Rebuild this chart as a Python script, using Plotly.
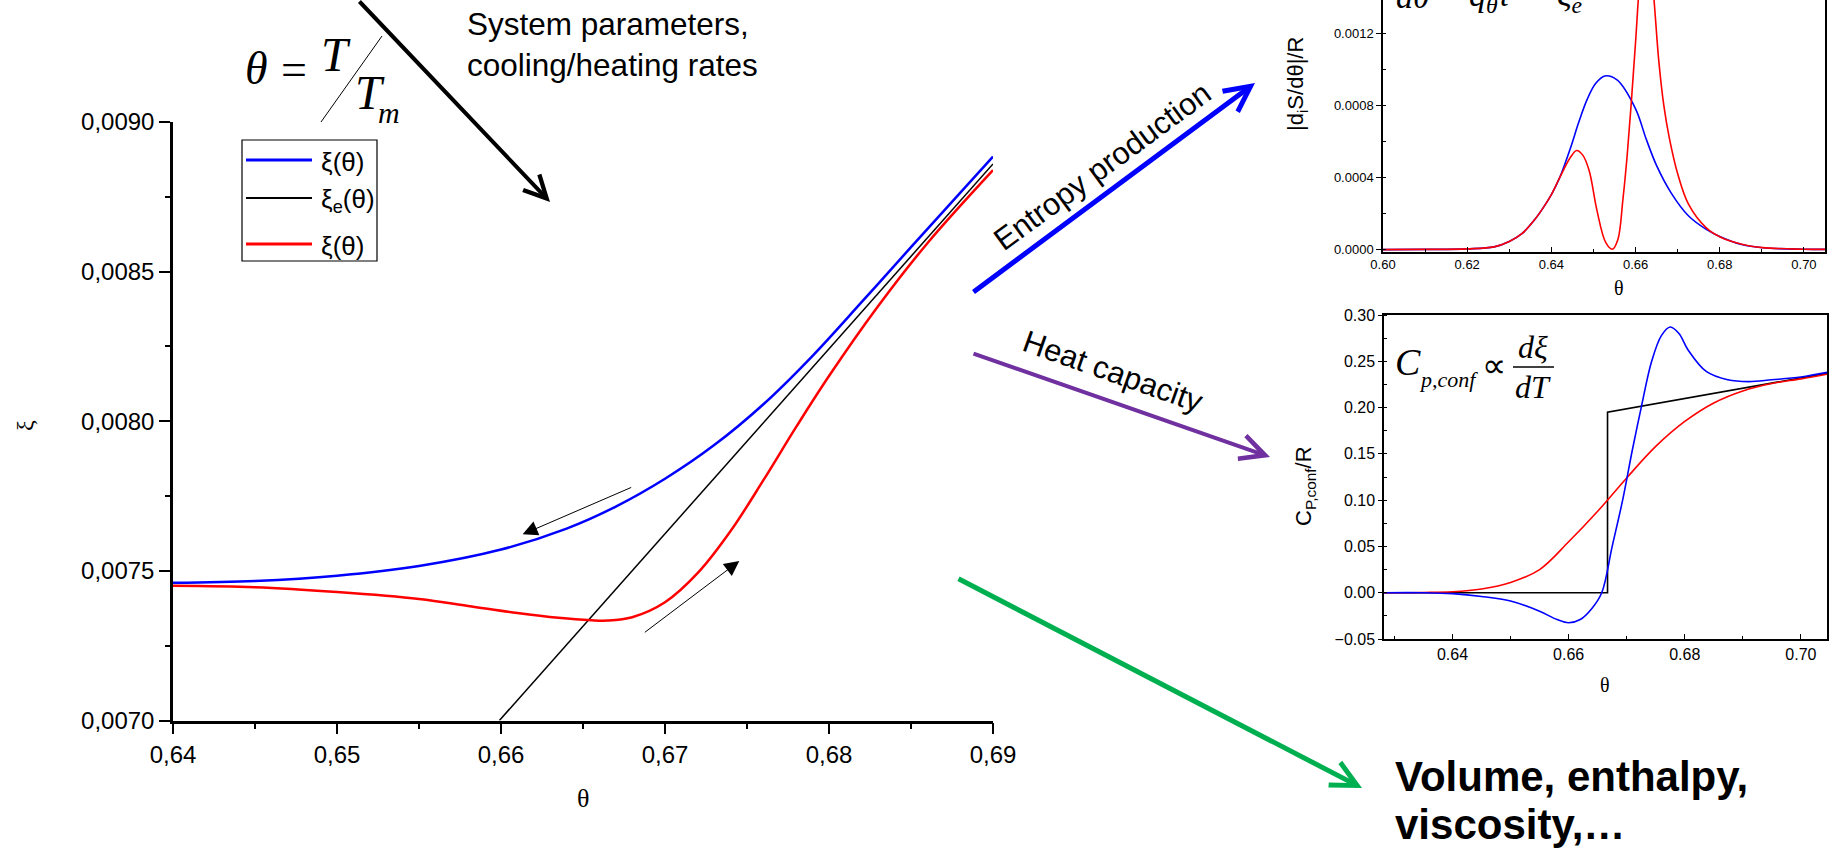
import plotly.graph_objects as go

W, H = 1837, 852

# ---------------- data: main panel (order parameter xi vs reduced temperature theta) ----------------
theta_cool = [0.640, 0.645, 0.650, 0.655, 0.660, 0.664, 0.667, 0.670, 0.673, 0.676,
              0.679, 0.682, 0.685, 0.690]
xi_cool = [0.007460, 0.0074663, 0.0074838, 0.0075163, 0.0075713, 0.0076413, 0.0077148,
           0.0078078, 0.0079203, 0.0080568, 0.0082188, 0.0083988, 0.0085818, 0.0088843]

theta_heat = [0.640, 0.645, 0.650, 0.655, 0.658, 0.661, 0.6635, 0.6655, 0.6665, 0.668, 0.670,
              0.672, 0.674, 0.676, 0.678, 0.680, 0.683, 0.686, 0.690]
xi_heat = [0.007450, 0.007445, 0.007429, 0.007406, 0.007383, 0.007359, 0.007343, 0.007335,
           0.007334, 0.007345, 0.007395, 0.007493, 0.007633, 0.007803, 0.007981, 0.008151,
           0.008385, 0.008595, 0.008839]

theta_eq = [0.6599, 0.690]
xi_eq = [0.0070, 0.00886]

main_xticks = [0.64, 0.65, 0.66, 0.67, 0.68, 0.69]
main_xticklabels = ["0,64", "0,65", "0,66", "0,67", "0,68", "0,69"]
main_yticks = [0.0070, 0.0075, 0.0080, 0.0085, 0.0090]
main_yticklabels = ["0,0070", "0,0075", "0,0080", "0,0085", "0,0090"]
legend_labels = ["ξ(θ)", "ξ<sub>e</sub>(θ)", "ξ(θ)"]

# small direction arrows (cooling / heating) in data units: (tail theta, tail xi, head theta, head xi)
arrow_cool = [0.66803, 0.007781, 0.66132, 0.007622]
arrow_heat = [0.66868, 0.007291, 0.67453, 0.007533]

# ---------------- data: entropy production inset ----------------
ent_theta_cool = [0.600, 0.610, 0.620, 0.6264, 0.630, 0.633, 0.636, 0.638, 0.640, 0.642,
                  0.6445, 0.6465, 0.6485, 0.6505, 0.6527, 0.6556, 0.660, 0.6625, 0.665, 0.6684,
                  0.6726, 0.6768, 0.6801, 0.6852, 0.6902, 0.700, 0.705]
ent_cool = [0.0, 0.000001, 0.000004, 0.000015, 0.000045, 0.000088, 0.000165, 0.000230, 0.000305,
            0.000400, 0.000560, 0.000705, 0.000832, 0.000920, 0.000962, 0.000940, 0.000780,
            0.000614, 0.000465, 0.000316, 0.000186, 0.000112, 0.000071, 0.000028, 0.000010,
            0.000002, 0.000001]

ent_theta_heat = [0.600, 0.610, 0.620, 0.6264, 0.630, 0.633, 0.636, 0.638, 0.640, 0.642,
                  0.6445, 0.646, 0.6475, 0.6490, 0.6508, 0.6529, 0.6545, 0.6558, 0.6570, 0.6580,
                  0.6590, 0.6600, 0.6610, 0.6622, 0.6634, 0.6645, 0.6655, 0.6667, 0.668, 0.670,
                  0.6726, 0.6768, 0.6801, 0.6852, 0.6902, 0.700, 0.705]
ent_heat = [0.0, 0.000001, 0.000004, 0.000015, 0.000045, 0.000088, 0.000165, 0.000230, 0.000305,
            0.000400, 0.000510, 0.000549, 0.000522, 0.000435, 0.000220, 0.000040, 0.000002,
            0.000056, 0.000280, 0.000520, 0.000820, 0.001150, 0.001500, 0.001780, 0.001650,
            0.001350, 0.001050, 0.000800, 0.000620, 0.000420, 0.000250, 0.000120, 0.000070,
            0.000030, 0.000011, 0.000002, 0.000001]

# ---------------- data: configurational heat capacity inset ----------------
cp_theta_cool = [0.6282, 0.635, 0.640, 0.645, 0.650, 0.655, 0.658, 0.660, 0.662, 0.664, 0.6657,
                 0.6675, 0.6693, 0.671, 0.6725, 0.6743, 0.676, 0.6775, 0.679, 0.6806, 0.6837,
                 0.6874, 0.691, 0.695, 0.700, 0.7045]
cp_cool = [0.0, 0.0, -0.001, -0.004, -0.009, -0.020, -0.029, -0.0325, -0.029, -0.017, 0.0, 0.05,
           0.10, 0.155, 0.20, 0.25, 0.278, 0.287, 0.280, 0.262, 0.239, 0.230, 0.228, 0.230,
           0.233, 0.238]

cp_theta_heat = [0.6282, 0.635, 0.640, 0.645, 0.650, 0.655, 0.660, 0.665, 0.670, 0.675, 0.680,
                 0.685, 0.690, 0.695, 0.700, 0.7045]
cp_heat = [0.0, 0.0003, 0.001, 0.004, 0.011, 0.025, 0.055, 0.088, 0.124, 0.158, 0.185, 0.205,
           0.218, 0.226, 0.231, 0.236]

cp_theta_eq = [0.6282, 0.6667, 0.6667, 0.7045]
cp_eq = [0.0, 0.0, 0.195, 0.237]

# ---------------- styling helpers ----------------
SANS = "Liberation Sans, Arial, sans-serif"
SERIF = "Liberation Serif, Times New Roman, serif"
BLUE, RED, BLACK = "#0000FF", "#FF0000", "#000000"


def px(x):
    return x / W


def py(y):
    return 1 - y / H


fig = go.Figure()

# main panel
fig.add_trace(go.Scatter(x=theta_cool, y=xi_cool, mode="lines", name="ξ(θ) cooling",
                         line=dict(color=BLUE, width=2.5, shape="spline"), xaxis="x", yaxis="y"))
fig.add_trace(go.Scatter(x=theta_eq, y=xi_eq, mode="lines", name="ξe(θ)",
                         line=dict(color=BLACK, width=1.5), xaxis="x", yaxis="y"))
fig.add_trace(go.Scatter(x=theta_heat, y=xi_heat, mode="lines", name="ξ(θ) heating",
                         line=dict(color=RED, width=2.5, shape="spline"), xaxis="x", yaxis="y"))

# entropy inset
fig.add_trace(go.Scatter(x=ent_theta_cool, y=ent_cool, mode="lines",
                         line=dict(color=BLUE, width=1.6, shape="spline"), xaxis="x2", yaxis="y2"))
fig.add_trace(go.Scatter(x=ent_theta_heat, y=ent_heat, mode="lines",
                         line=dict(color=RED, width=1.6, shape="spline"), xaxis="x2", yaxis="y2"))

# heat capacity inset
fig.add_trace(go.Scatter(x=cp_theta_eq, y=cp_eq, mode="lines",
                         line=dict(color=BLACK, width=1.6), xaxis="x3", yaxis="y3"))
fig.add_trace(go.Scatter(x=cp_theta_heat, y=cp_heat, mode="lines",
                         line=dict(color=RED, width=1.6, shape="spline"), xaxis="x3", yaxis="y3"))
fig.add_trace(go.Scatter(x=cp_theta_cool, y=cp_cool, mode="lines",
                         line=dict(color=BLUE, width=1.6, shape="spline"), xaxis="x3", yaxis="y3"))

axis_common = dict(showgrid=False, zeroline=False, showline=True, linecolor=BLACK,
                   tickcolor=BLACK, automargin=False)

fig.update_layout(
    width=W, height=H, margin=dict(l=0, r=0, t=0, b=0, pad=0, autoexpand=False),
    paper_bgcolor="white", plot_bgcolor="rgba(0,0,0,0)", showlegend=False,
    xaxis=dict(**axis_common, domain=[px(173), px(993)], range=[0.64, 0.69], anchor="y",
               tickmode="array", tickvals=main_xticks, ticktext=main_xticklabels,
               ticks="outside", ticklen=11, tickwidth=2, linewidth=2.5,
               tickfont=dict(family=SANS, size=24, color=BLACK),
               minor=dict(tickmode="linear", tick0=0.64, dtick=0.005, ticks="outside",
                          ticklen=6, tickwidth=2, tickcolor=BLACK)),
    yaxis=dict(**axis_common, domain=[py(720.5), py(122)], range=[0.0070, 0.0090], anchor="x",
               tickmode="array", tickvals=main_yticks, ticktext=main_yticklabels,
               ticks="outside", ticklen=11, tickwidth=2, linewidth=2.5,
               tickfont=dict(family=SANS, size=24, color=BLACK),
               minor=dict(tickmode="linear", tick0=0.007, dtick=0.00025, ticks="outside",
                          ticklen=5, tickwidth=2, tickcolor=BLACK)),
    xaxis2=dict(**axis_common, domain=[px(1383), px(1825)], range=[0.60, 0.705], anchor="y2",
                tickmode="linear", tick0=0.60, dtick=0.02, tickformat=".2f",
                ticks="inside", ticklen=5, tickwidth=1, linewidth=1.5, mirror=False,
                tickfont=dict(family=SANS, size=13, color=BLACK),
                minor=dict(tickmode="linear", tick0=0.60, dtick=0.01, ticks="inside",
                           ticklen=3, tickwidth=1, tickcolor=BLACK)),
    yaxis2=dict(**axis_common, domain=[py(252), 1.0], range=[-0.0000133, 0.001383], anchor="x2",
                tickmode="array", tickvals=[0.0, 0.0004, 0.0008, 0.0012], tickformat=".4f",
                ticks="outside", ticklen=5, tickwidth=1, linewidth=1.5, mirror=True,
                tickfont=dict(family=SANS, size=13, color=BLACK),
                minor=dict(tickmode="linear", tick0=0.0, dtick=0.0002, ticks="inside",
                           ticklen=3, tickwidth=1, tickcolor=BLACK)),
    xaxis3=dict(**axis_common, domain=[px(1384), px(1827)], range=[0.6282, 0.7045], anchor="y3",
                tickmode="linear", tick0=0.64, dtick=0.02, tickformat=".2f",
                ticks="inside", ticklen=5, tickwidth=1, linewidth=1.5, mirror=True,
                tickfont=dict(family=SANS, size=16, color=BLACK),
                minor=dict(tickmode="linear", tick0=0.63, dtick=0.01, ticks="inside",
                           ticklen=3, tickwidth=1, tickcolor=BLACK)),
    yaxis3=dict(**axis_common, domain=[py(639), py(315)], range=[-0.05, 0.30], anchor="x3",
                tickmode="linear", tick0=-0.05, dtick=0.05, tickformat=".2f",
                ticks="outside", ticklen=4, tickwidth=1, linewidth=1.5, mirror=True,
                tickfont=dict(family=SANS, size=16, color=BLACK),
                minor=dict(tickmode="linear", tick0=-0.05, dtick=0.025, ticks="inside",
                           ticklen=3, tickwidth=1, tickcolor=BLACK)),
)

ann = []
shapes = []


def text(x, y, s, size, family=SANS, angle=0, xanchor="center", yanchor="middle", **kw):
    ann.append(dict(x=px(x), y=py(y), xref="paper", yref="paper", text=s, showarrow=False,
                    textangle=angle, xanchor=xanchor, yanchor=yanchor,
                    font=dict(family=family, size=size, color=kw.pop("color", BLACK)), **kw))


def paper_arrow(tail, tip, color, width, head=5, size=1.0):
    ann.append(dict(x=px(tip[0]), y=py(tip[1]), xref="paper", yref="paper", text="",
                    showarrow=True, ax=tail[0] - tip[0], ay=tail[1] - tip[1],
                    arrowcolor=color, arrowwidth=width, arrowhead=head, arrowsize=size,
                    standoff=0))


# axis titles
text(583, 798, "θ", 26, SERIF)
text(25, 426, "ξ", 24, SERIF, angle=-90)
text(1619, 288, "θ", 20, SERIF)
text(1297, 84, "|d<sub>i</sub>S/dθ|/R", 22, SANS, angle=-90)
text(1605, 685, "θ", 20, SERIF)
text(1305, 486, "C<sub>P,conf</sub>/R", 22, SANS, angle=-90)

# theta = T / T_m formula
text(256, 68, "<i>θ</i>", 46, SERIF)
text(294, 70, "=", 46, SERIF)
text(336, 55, "<i>T</i>", 48, SERIF)
text(370, 92, "<i>T</i>", 48, SERIF)
text(389, 113, "<i>m</i>", 30, SERIF)
shapes.append(dict(type="line", xref="paper", yref="paper", x0=px(321), y0=py(122),
                   x1=px(382), y1=py(36), line=dict(color=BLACK, width=1)))

# System parameters text and arrow
text(465, 4, "System parameters,<br>cooling/heating rates", 31.5, SANS,
     xanchor="left", yanchor="top", align="left")
paper_arrow((358, -30), (550, 202), BLACK, 4, head=5, size=1.1)

# legend (drawn manually to match the framed legend)
shapes.append(dict(type="rect", xref="paper", yref="paper", x0=px(242), y0=py(140),
                   x1=px(377), y1=py(261), line=dict(color=BLACK, width=1.2)))
for yy, col, w, lab in [(160, BLUE, 3, legend_labels[0]), (198, BLACK, 2, legend_labels[1]),
                        (244, RED, 3, legend_labels[2])]:
    shapes.append(dict(type="line", xref="paper", yref="paper", x0=px(246), y0=py(yy),
                       x1=px(312), y1=py(yy), line=dict(color=col, width=w)))
    text(319, yy + 2, lab, 26, SANS, xanchor="left")

# cooling / heating direction arrows inside main plot
for a in (arrow_cool, arrow_heat):
    ann.append(dict(x=a[2], y=a[3], ax=a[0], ay=a[1], xref="x", yref="y", axref="x", ayref="y",
                    text="", showarrow=True, arrowhead=2, arrowsize=3, arrowwidth=1,
                    arrowcolor=BLACK, standoff=0))

# connecting arrows and labels
paper_arrow((972, 293), (1255, 83), "#0000FF", 5, head=5, size=1.0)
text(1102, 166, "Entropy production", 31, SANS, angle=-36.3)
paper_arrow((972, 353), (1270, 457), "#7030A0", 4, head=5, size=1.2)
text(1113, 371, "Heat capacity", 31, SANS, angle=19.5)
paper_arrow((957, 578), (1362, 788), "#00B050", 5, head=5, size=1.0)
text(1393, 776, "<b>Volume, enthalpy,</b>", 42, SANS, xanchor="left")
text(1393, 824, "<b>viscosity,…</b>", 42, SANS, xanchor="left")

# formula fragments at the top of the entropy inset (cut by the frame)
text(1413, -3, "<i>dθ</i>", 34, SERIF)
text(1490, -3, "<i>q<sub>θ</sub>τ</i>", 34, SERIF)
text(1570, -3, "<i>ξ<sub>e</sub></i>", 34, SERIF)

# C_p formula in the heat-capacity inset
text(1408, 362, "<i>C</i>", 38, SERIF)
text(1448, 379, "<i>p,conf</i>", 22, SERIF)
text(1494, 365, "∝", 34, SERIF)
text(1533, 347, "<i>dξ</i>", 32, SERIF)
text(1533, 387, "<i>dT</i>", 32, SERIF)
shapes.append(dict(type="line", xref="paper", yref="paper", x0=px(1513), y0=py(367),
                   x1=px(1554), y1=py(367), line=dict(color=BLACK, width=1.5)))

fig.update_layout(annotations=ann, shapes=shapes)
fig.write_html("out.html")
